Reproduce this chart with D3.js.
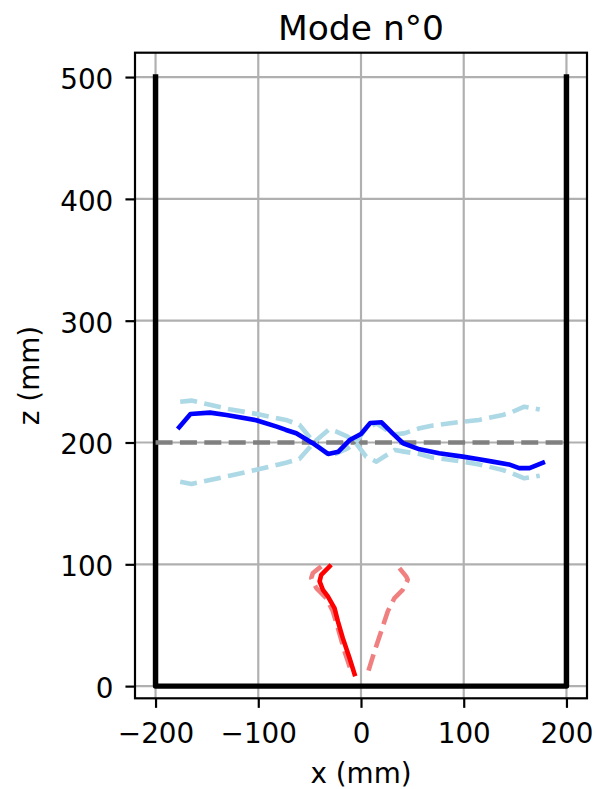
<!DOCTYPE html>
<html>
<head>
<meta charset="utf-8">
<script src="https://cdn.jsdelivr.net/npm/d3@7"></script>
<style>
  body { margin: 0; background: #fff; }
  text { font-family: "DejaVu Sans", sans-serif; fill: #000; }
</style>
</head>
<body>
<svg id="chart" width="596" height="789"></svg>
<script>
// tick values
var xTicks = [-200, -100, 0, 100, 200];
var zTicks = [0, 100, 200, 300, 400, 500];

// tank outline and rest level
var wallX = [-200, -200, 200, 200];
var wallZ = [500, 0, 0, 500];
var restX = [-200, 200];
var restZ = [200, 200];

// free surface: snapshot (solid blue)
var surfX = [-177, -166, -147, -131, -102, -82, -73, -63, -47, -32, -22, -11, 0, 9, 20, 31, 41, 57, 76, 99, 115, 128, 144, 154, 164, 177];
var surfZ = [212.5, 223.4, 224.5, 222.6, 218.3, 213, 210.3, 207.6, 199.4, 190.6, 192.5, 202, 207, 216, 216.6, 207.3, 199.4, 194.4, 191.1, 188.4, 186.2, 184.3, 182, 179, 179, 183.4];

// free surface: envelopes (light blue dashed)
var envX = [-176, -165, -147, -128, -102, -73, -60, -45, -31, -24, -13, -6, 5, 15, 25, 33, 42, 57, 70, 99, 115, 138, 147, 159, 174];
var envUpZ = [233.5, 234.4, 231, 227.3, 223.5, 218.5, 214.5, 199.3, 189.2, 191, 195.2, 199.3, 211.6, 215.7, 210.3, 206.8, 207.5, 211.7, 214, 217.1, 218.5, 222.6, 225, 229.4, 227];
var envLowZ = [167.8, 166, 169.2, 172.7, 177.6, 183.4, 186.5, 200.7, 210.8, 209, 204.8, 200.7, 188.4, 184.3, 189.7, 193.9, 192.5, 190.5, 187.5, 184.3, 182, 177.4, 174.7, 170.6, 172.7];

// beam: snapshot (red) and envelopes (light coral dashed)
var beamX = [-30.6, -38.7, -40.3, -37.1, -32.3, -25.8, -22.5, -17.7, -11.2, -6.3];
var beamZ = [98.3, 91.4, 86, 79.1, 73.7, 64.1, 53.1, 39.4, 23, 9.9];
var beamLeftX = [-38.7, -46.8, -48.4, -43.5, -33.8, -27.4, -22.5, -16, -9.5];
var beamLeftZ = [98.3, 92.8, 88.7, 80.5, 72.3, 61.4, 47.6, 28.5, 12];
var beamRightX = [37.4, 43.9, 45.5, 40.6, 32.6, 26.1, 19.6, 13.1, 6.6];
var beamRightZ = [96.9, 90.1, 87.3, 79.1, 72.3, 61.4, 44.9, 28.5, 10.7];

var box = { left: 135, right: 587, top: 52.7, bottom: 698.3 };
var pt = 2.73;                 // px per point
var fs = 27.8;                 // tick / label font size
var lw = 4.6;                  // data line width

var svg = d3.select("#chart");

var x = d3.scaleLinear().domain([-220, 220]).range([box.left, box.right]);
var z = d3.scaleLinear().domain([-10, 520]).range([box.bottom, box.top]);

// grid
svg.append("g").selectAll("line")
  .data(xTicks).enter().append("line")
  .attr("x1", function(d) { return x(d); }).attr("x2", function(d) { return x(d); })
  .attr("y1", box.top).attr("y2", box.bottom)
  .attr("stroke", "#b0b0b0").attr("stroke-width", 0.8 * pt);
svg.append("g").selectAll("line")
  .data(zTicks).enter().append("line")
  .attr("y1", function(d) { return z(d); }).attr("y2", function(d) { return z(d); })
  .attr("x1", box.left).attr("x2", box.right)
  .attr("stroke", "#b0b0b0").attr("stroke-width", 0.8 * pt);

function pts(xs, zs) {
  return xs.map(function(v, i) { return [v, zs[i]]; });
}
var line = d3.line().x(function(d) { return x(d[0]); }).y(function(d) { return z(d[1]); });
var dash = (3.7 * lw) + "," + (1.6 * lw);

function draw(data, color, width, dashed) {
  svg.append("path")
    .attr("d", line(data))
    .attr("fill", "none")
    .attr("stroke", color)
    .attr("stroke-width", width)
    .attr("stroke-linejoin", "round")
    .attr("stroke-linecap", dashed ? "butt" : "square")
    .attr("stroke-dasharray", dashed ? dash : null);
}

draw(pts(wallX, wallZ), "#000", 2 * pt, false);
draw(pts(restX, restZ), "#808080", lw, true);
draw(pts(envX, envUpZ), "#add8e6", lw, true);
draw(pts(envX, envLowZ), "#add8e6", lw, true);
draw(pts(surfX, surfZ), "#0000ff", lw, false);
draw(pts(beamLeftX, beamLeftZ), "#f08080", lw, true);
draw(pts(beamRightX, beamRightZ), "#f08080", lw, true);
draw(pts(beamX, beamZ), "#ff0000", lw, false);

// spines
svg.append("rect")
  .attr("x", box.left).attr("y", box.top)
  .attr("width", box.right - box.left).attr("height", box.bottom - box.top)
  .attr("fill", "none").attr("stroke", "#000").attr("stroke-width", 0.8 * pt);

// axes
var xAxis = svg.append("g")
  .attr("transform", "translate(0," + box.bottom + ")")
  .call(d3.axisBottom(x).tickValues(xTicks).tickSize(3.5 * pt).tickSizeOuter(0));
var zAxis = svg.append("g")
  .attr("transform", "translate(" + box.left + ",0)")
  .call(d3.axisLeft(z).tickValues(zTicks).tickSize(3.5 * pt).tickSizeOuter(0));

[xAxis, zAxis].forEach(function(a) {
  a.select(".domain").remove();
  a.selectAll(".tick line").attr("stroke", "#000").attr("stroke-width", 0.8 * pt);
  a.selectAll("text").attr("font-family", "DejaVu Sans").attr("font-size", fs).attr("fill", "#000");
});
xAxis.selectAll("text").attr("y", 44.4).attr("dy", 0);
zAxis.selectAll("text").attr("x", -21.7).attr("dy", 11.5);

// labels
svg.append("text")
  .attr("x", 361).attr("y", 40)
  .attr("text-anchor", "middle").attr("font-size", 34.5)
  .text("Mode n°0");
svg.append("text")
  .attr("x", 361).attr("y", 782.7)
  .attr("text-anchor", "middle").attr("font-size", fs)
  .text("x (mm)");
svg.append("text")
  .attr("transform", "translate(39.3,375.5) rotate(-90)")
  .attr("text-anchor", "middle").attr("font-size", fs)
  .text("z (mm)");
</script>
</body>
</html>
